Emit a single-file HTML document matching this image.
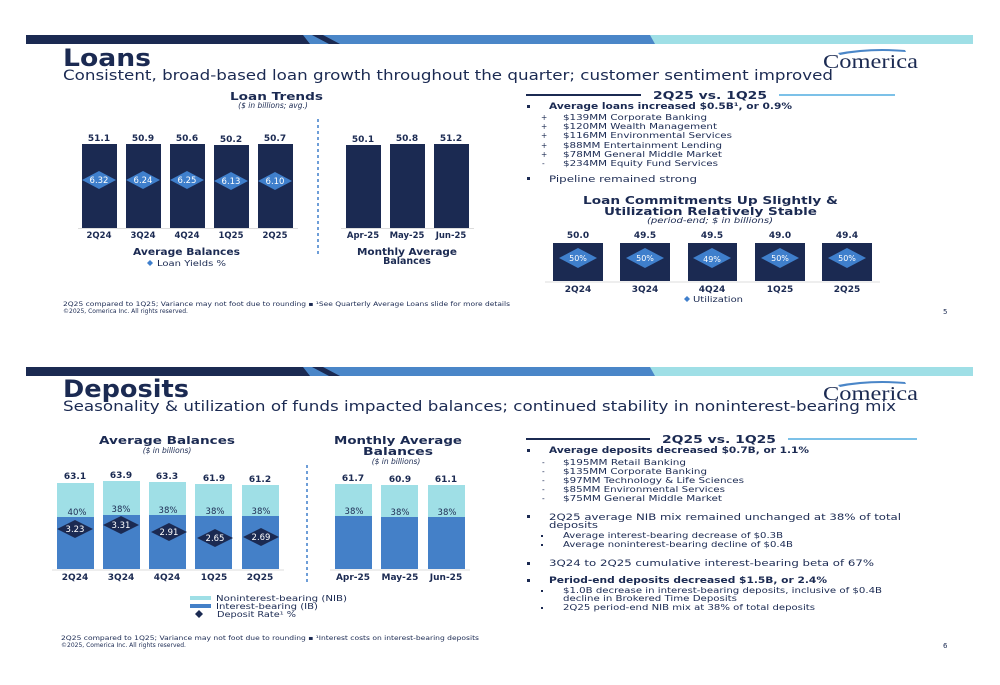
<!DOCTYPE html>
<html><head><meta charset="utf-8"><style>html,body{margin:0;padding:0;background:#fff}svg{display:block}text{font-family:"DejaVu Sans","Liberation Sans",sans-serif}text.serif{font-family:"Liberation Serif","DejaVu Serif",serif}</style></head><body>
<svg width="1000" height="685" viewBox="0 0 1000 685" xmlns="http://www.w3.org/2000/svg">
<defs>
<g id="hdr">
<rect x="26" y="0" width="947" height="9" fill="#9fdfe6"/>
<polygon points="26,0 650,0 655,9 26,9" fill="#4a86c8"/>
<polygon points="26,0 303,0 310,9 26,9" fill="#1b2a52"/>
<polygon points="312,0 323,0 340,9 329,9" fill="#1b2a52"/>
<polygon points="625,0 632,0 648,9 641,9" fill="#4a86c8"/>
</g>
<g id="logo">
<path d="M838,0 Q870,-6 905,-3 L906,-1 Q870,-4 840,2 Z" fill="#4a86c8"/>
<text class="serif" x="823" y="15" font-size="20" fill="#1b2a52" textLength="95" lengthAdjust="spacingAndGlyphs">Comerica</text>
</g>
</defs>

<!-- ===== LOANS SLIDE ===== -->
<use href="#hdr" y="35"/>
<text x="63" y="66" font-size="24" font-weight="bold" fill="#1b2a52" textLength="88" lengthAdjust="spacingAndGlyphs">Loans</text>
<text x="63" y="80" font-size="14.5" fill="#1b2a52" textLength="770" lengthAdjust="spacingAndGlyphs">Consistent, broad-based loan growth throughout the quarter; customer sentiment improved</text>
<use href="#logo" y="53"/>

<text x="230" y="100" font-size="11" font-weight="bold" fill="#1b2a52" textLength="93" lengthAdjust="spacingAndGlyphs">Loan Trends</text>
<text x="273" y="108" font-size="7.5" font-style="italic" fill="#1b2a52" text-anchor="middle">($ in billions; avg.)</text>
<g fill="#1b2a52">
<rect x="82" y="144" width="35" height="84"/><rect x="126" y="144" width="35" height="84"/><rect x="170" y="144" width="35" height="84"/><rect x="214" y="145" width="35" height="83"/><rect x="258" y="144" width="35" height="84"/>
<rect x="346" y="145" width="35" height="83"/><rect x="390" y="144" width="35" height="84"/><rect x="434" y="144" width="35" height="84"/>
</g>
<g font-size="9" font-weight="bold" fill="#1b2a52" text-anchor="middle">
<text x="99" y="141">51.1</text><text x="143" y="141">50.9</text><text x="187" y="141">50.6</text><text x="231" y="142">50.2</text><text x="275" y="141">50.7</text>
<text x="363" y="142">50.1</text><text x="407" y="141">50.8</text><text x="451" y="141">51.2</text>
</g>
<g fill="#3f7fcc">
<polygon points="82,180 99,171 116,180 99,189"/><polygon points="126,180 143,171 160,180 143,189"/><polygon points="170,180 187,171 204,180 187,189"/><polygon points="214,181 231,172 248,181 231,190"/><polygon points="258,181 275,172 292,181 275,190"/>
</g>
<g font-size="8.5" fill="#fff" text-anchor="middle">
<text x="99" y="183">6.32</text><text x="143" y="183">6.24</text><text x="187" y="183">6.25</text><text x="231" y="184">6.13</text><text x="275" y="184">6.10</text>
</g>
<line x1="78" y1="228.5" x2="298" y2="228.5" stroke="#ddd"/>
<line x1="341" y1="228.5" x2="474" y2="228.5" stroke="#ddd"/>
<line x1="318" y1="119" x2="318" y2="255" stroke="#3f7fcc" stroke-width="1.5" stroke-dasharray="3,3"/>
<g font-size="8.5" font-weight="bold" fill="#1b2a52" text-anchor="middle">
<text x="99" y="238">2Q24</text><text x="143" y="238">3Q24</text><text x="187" y="238">4Q24</text><text x="231" y="238">1Q25</text><text x="275" y="238">2Q25</text>
<text x="363" y="238">Apr-25</text><text x="407" y="238">May-25</text><text x="451" y="238">Jun-25</text>
</g>
<text x="133" y="255" font-size="9.5" font-weight="bold" fill="#1b2a52" textLength="107" lengthAdjust="spacingAndGlyphs">Average Balances</text>
<polygon points="147,263 150,260 153,263 150,266" fill="#3f7fcc"/>
<text x="157" y="266" font-size="8" fill="#1b2a52" textLength="69" lengthAdjust="spacingAndGlyphs">Loan Yields %</text>
<text x="357" y="255" font-size="9.5" font-weight="bold" fill="#1b2a52" textLength="100" lengthAdjust="spacingAndGlyphs">Monthly Average</text>
<text x="407" y="264" font-size="9.5" font-weight="bold" fill="#1b2a52" text-anchor="middle">Balances</text>

<line x1="526" y1="95" x2="641" y2="95" stroke="#1b2a52" stroke-width="2"/>
<line x1="779" y1="95" x2="895" y2="95" stroke="#7cc1e8" stroke-width="2"/>
<text x="653" y="99" font-size="11" font-weight="bold" fill="#1b2a52" textLength="114" lengthAdjust="spacingAndGlyphs">2Q25 vs. 1Q25</text>
<g fill="#1b2a52">
<rect x="527" y="105" width="3" height="3"/><rect x="527" y="177" width="3" height="3"/>
<text x="549" y="109" font-size="8.5" font-weight="bold" textLength="243" lengthAdjust="spacingAndGlyphs">Average loans increased $0.5B¹, or 0.9%</text>
<g font-size="7.5">
<text x="541" y="120">+</text><text x="563" y="120" textLength="144" lengthAdjust="spacingAndGlyphs">$139MM Corporate Banking</text>
<text x="541" y="129">+</text><text x="563" y="129" textLength="154" lengthAdjust="spacingAndGlyphs">$120MM Wealth Management</text>
<text x="541" y="138">+</text><text x="563" y="138" textLength="169" lengthAdjust="spacingAndGlyphs">$116MM Environmental Services</text>
<text x="541" y="148">+</text><text x="563" y="148" textLength="159" lengthAdjust="spacingAndGlyphs">$88MM Entertainment Lending</text>
<text x="541" y="157">+</text><text x="563" y="157" textLength="159" lengthAdjust="spacingAndGlyphs">$78MM General Middle Market</text>
<text x="542" y="166">-</text><text x="563" y="166" textLength="155" lengthAdjust="spacingAndGlyphs">$234MM Equity Fund Services</text>
</g>
<text x="549" y="182" font-size="8.5" textLength="148" lengthAdjust="spacingAndGlyphs">Pipeline remained strong</text>
<text x="583" y="204" font-size="10.5" font-weight="bold" textLength="255" lengthAdjust="spacingAndGlyphs">Loan Commitments Up Slightly &amp;</text>
<text x="604" y="215" font-size="10.5" font-weight="bold" textLength="213" lengthAdjust="spacingAndGlyphs">Utilization Relatively Stable</text>
<text x="647" y="223" font-size="7.5" font-style="italic" textLength="126" lengthAdjust="spacingAndGlyphs">(period-end; $ in billions)</text>
<rect x="553" y="243" width="50" height="38"/><rect x="620" y="243" width="50" height="38"/><rect x="688" y="243" width="49" height="38"/><rect x="755" y="243" width="50" height="38"/><rect x="822" y="243" width="50" height="38"/>
<g font-size="9" font-weight="bold" text-anchor="middle">
<text x="578" y="238">50.0</text><text x="645" y="238">49.5</text><text x="712" y="238">49.5</text><text x="780" y="238">49.0</text><text x="847" y="238">49.4</text>
<text x="578" y="292">2Q24</text><text x="645" y="292">3Q24</text><text x="712" y="292">4Q24</text><text x="780" y="292">1Q25</text><text x="847" y="292">2Q25</text>
</g>
</g>
<g fill="#3f7fcc">
<polygon points="559,258 578,248 597,258 578,268"/><polygon points="626,258 645,248 664,258 645,268"/><polygon points="693,258 712,248 731,258 712,268"/><polygon points="761,258 780,248 799,258 780,268"/><polygon points="828,258 847,248 866,258 847,268"/>
</g>
<g font-size="8" fill="#fff" text-anchor="middle">
<text x="578" y="261">50%</text><text x="645" y="261">50%</text><text x="712" y="262">49%</text><text x="780" y="261">50%</text><text x="847" y="261">50%</text>
</g>
<line x1="545" y1="282" x2="880" y2="282" stroke="#ddd"/>
<polygon points="684,299 687,296 690,299 687,302" fill="#3f7fcc"/>
<text x="693" y="302" font-size="8" fill="#1b2a52" textLength="50" lengthAdjust="spacingAndGlyphs">Utilization</text>
<text x="63" y="306" font-size="6" fill="#1b2a52" textLength="447" lengthAdjust="spacingAndGlyphs">2Q25 compared to 1Q25; Variance may not foot due to rounding ▪ ¹See Quarterly Average Loans slide for more details</text>
<text x="63" y="313" font-size="6" fill="#1b2a52">©2025, Comerica Inc. All rights reserved.</text>
<text x="943" y="314" font-size="7" fill="#1b2a52">5</text>

<!-- ===== DEPOSITS SLIDE ===== -->
<use href="#hdr" y="367"/>
<text x="63" y="397" font-size="24" font-weight="bold" fill="#1b2a52" textLength="126" lengthAdjust="spacingAndGlyphs">Deposits</text>
<text x="63" y="411" font-size="14.5" fill="#1b2a52" textLength="833" lengthAdjust="spacingAndGlyphs">Seasonality &amp; utilization of funds impacted balances; continued stability in noninterest-bearing mix</text>
<use href="#logo" y="385"/>

<g fill="#1b2a52" font-weight="bold">
<text x="99" y="444" font-size="11" textLength="136" lengthAdjust="spacingAndGlyphs">Average Balances</text>
<text x="334" y="444" font-size="11" textLength="128" lengthAdjust="spacingAndGlyphs">Monthly Average</text>
<text x="363" y="455" font-size="11" textLength="70" lengthAdjust="spacingAndGlyphs">Balances</text>
</g>
<g fill="#1b2a52" text-anchor="middle" font-size="7.5" font-style="italic">
<text x="167" y="453">($ in billions)</text><text x="396" y="464">($ in billions)</text>
</g>
<g fill="#9fdfe6">
<rect x="57" y="483" width="37" height="86"/><rect x="103" y="481" width="37" height="88"/><rect x="149" y="482" width="37" height="87"/><rect x="195" y="484" width="37" height="85"/><rect x="242" y="485" width="37" height="84"/>
<rect x="335" y="484" width="37" height="85"/><rect x="381" y="485" width="37" height="84"/><rect x="428" y="485" width="37" height="84"/>
</g>
<g fill="#4480c8">
<rect x="57" y="517" width="37" height="52"/><rect x="103" y="515" width="37" height="54"/><rect x="149" y="515" width="37" height="54"/><rect x="195" y="516" width="37" height="53"/><rect x="242" y="516" width="37" height="53"/>
<rect x="335" y="516" width="37" height="53"/><rect x="381" y="517" width="37" height="52"/><rect x="428" y="517" width="37" height="52"/>
</g>
<g fill="#1b2a52" font-size="9" font-weight="bold" text-anchor="middle">
<text x="75" y="479">63.1</text><text x="121" y="478">63.9</text><text x="167" y="479">63.3</text><text x="214" y="481">61.9</text><text x="260" y="482">61.2</text>
<text x="353" y="481">61.7</text><text x="400" y="482">60.9</text><text x="446" y="482">61.1</text>
</g>
<g fill="#1b2a52" font-size="8.5" text-anchor="middle">
<text x="77" y="515">40%</text><text x="121" y="512">38%</text><text x="168" y="513">38%</text><text x="215" y="514">38%</text><text x="261" y="514">38%</text>
<text x="354" y="514">38%</text><text x="400" y="515">38%</text><text x="447" y="515">38%</text>
</g>
<g fill="#1b2a52">
<polygon points="57,529 75,520 93,529 75,538"/><polygon points="103,525 121,516 139,525 121,534"/><polygon points="151,532 169,523 187,532 169,541"/><polygon points="197,538 215,529 233,538 215,547"/><polygon points="243,537 261,528 279,537 261,546"/>
</g>
<g fill="#fff" font-size="8.5" text-anchor="middle">
<text x="75" y="532">3.23</text><text x="121" y="528">3.31</text><text x="169" y="535">2.91</text><text x="215" y="541">2.65</text><text x="261" y="540">2.69</text>
</g>
<line x1="52" y1="570" x2="284" y2="570" stroke="#ddd"/>
<line x1="330" y1="570" x2="470" y2="570" stroke="#ddd"/>
<line x1="307" y1="465" x2="307" y2="585" stroke="#3f7fcc" stroke-width="1.5" stroke-dasharray="3,3"/>
<g fill="#1b2a52" font-size="9" font-weight="bold" text-anchor="middle">
<text x="75" y="580">2Q24</text><text x="121" y="580">3Q24</text><text x="167" y="580">4Q24</text><text x="214" y="580">1Q25</text><text x="260" y="580">2Q25</text>
<text x="353" y="580">Apr-25</text><text x="400" y="580">May-25</text><text x="446" y="580">Jun-25</text>
</g>
<rect x="190" y="596" width="21" height="4" fill="#9fdfe6"/>
<rect x="190" y="604" width="21" height="4" fill="#4480c8"/>
<polygon points="195,614 199,610 203,614 199,618" fill="#1b2a52"/>
<g fill="#1b2a52" font-size="8">
<text x="216" y="601" textLength="131" lengthAdjust="spacingAndGlyphs">Noninterest-bearing (NIB)</text>
<text x="216" y="609" textLength="102" lengthAdjust="spacingAndGlyphs">Interest-bearing (IB)</text>
<text x="217" y="617" textLength="79" lengthAdjust="spacingAndGlyphs">Deposit Rate¹ %</text>
</g>

<line x1="526" y1="439" x2="650" y2="439" stroke="#1b2a52" stroke-width="2"/>
<line x1="788" y1="439" x2="917" y2="439" stroke="#7cc1e8" stroke-width="2"/>
<text x="662" y="443" font-size="10.5" font-weight="bold" fill="#1b2a52" textLength="114" lengthAdjust="spacingAndGlyphs">2Q25 vs. 1Q25</text>
<g fill="#1b2a52">
<rect x="527" y="449" width="3" height="3"/><rect x="527" y="515" width="3" height="3"/><rect x="527" y="562" width="3" height="3"/><rect x="527" y="579" width="3" height="3"/>
<rect x="541" y="535" width="2" height="2"/><rect x="541" y="544" width="2" height="2"/><rect x="541" y="590" width="2" height="2"/><rect x="541" y="607" width="2" height="2"/>
<text x="549" y="453" font-size="8.5" font-weight="bold" textLength="260" lengthAdjust="spacingAndGlyphs">Average deposits decreased $0.7B, or 1.1%</text>
<g font-size="7.5">
<text x="542" y="465">-</text><text x="563" y="465" textLength="123" lengthAdjust="spacingAndGlyphs">$195MM Retail Banking</text>
<text x="542" y="474">-</text><text x="563" y="474" textLength="144" lengthAdjust="spacingAndGlyphs">$135MM Corporate Banking</text>
<text x="542" y="483">-</text><text x="563" y="483" textLength="181" lengthAdjust="spacingAndGlyphs">$97MM Technology &amp; Life Sciences</text>
<text x="542" y="492">-</text><text x="563" y="492" textLength="162" lengthAdjust="spacingAndGlyphs">$85MM Environmental Services</text>
<text x="542" y="501">-</text><text x="563" y="501" textLength="159" lengthAdjust="spacingAndGlyphs">$75MM General Middle Market</text>
<text x="563" y="538" textLength="220" lengthAdjust="spacingAndGlyphs">Average interest-bearing decrease of $0.3B</text>
<text x="563" y="547" textLength="230" lengthAdjust="spacingAndGlyphs">Average noninterest-bearing decline of $0.4B</text>
<text x="563" y="593" textLength="319" lengthAdjust="spacingAndGlyphs">$1.0B decrease in interest-bearing deposits, inclusive of $0.4B</text>
<text x="563" y="601" textLength="174" lengthAdjust="spacingAndGlyphs">decline in Brokered Time Deposits</text>
<text x="563" y="610" textLength="252" lengthAdjust="spacingAndGlyphs">2Q25 period-end NIB mix at 38% of total deposits</text>
</g>
<g font-size="8.5">
<text x="549" y="520" textLength="352" lengthAdjust="spacingAndGlyphs">2Q25 average NIB mix remained unchanged at 38% of total</text>
<text x="549" y="528" textLength="49" lengthAdjust="spacingAndGlyphs">deposits</text>
<text x="549" y="566" textLength="325" lengthAdjust="spacingAndGlyphs">3Q24 to 2Q25 cumulative interest-bearing beta of 67%</text>
<text x="549" y="583" font-weight="bold" textLength="278" lengthAdjust="spacingAndGlyphs">Period-end deposits decreased $1.5B, or 2.4%</text>
</g>
</g>
<text x="61" y="640" font-size="6" fill="#1b2a52" textLength="418" lengthAdjust="spacingAndGlyphs">2Q25 compared to 1Q25; Variance may not foot due to rounding ▪ ¹Interest costs on interest-bearing deposits</text>
<text x="61" y="647" font-size="6" fill="#1b2a52">©2025, Comerica Inc. All rights reserved.</text>
<text x="943" y="648" font-size="7" fill="#1b2a52">6</text>
</svg>
</body></html>
